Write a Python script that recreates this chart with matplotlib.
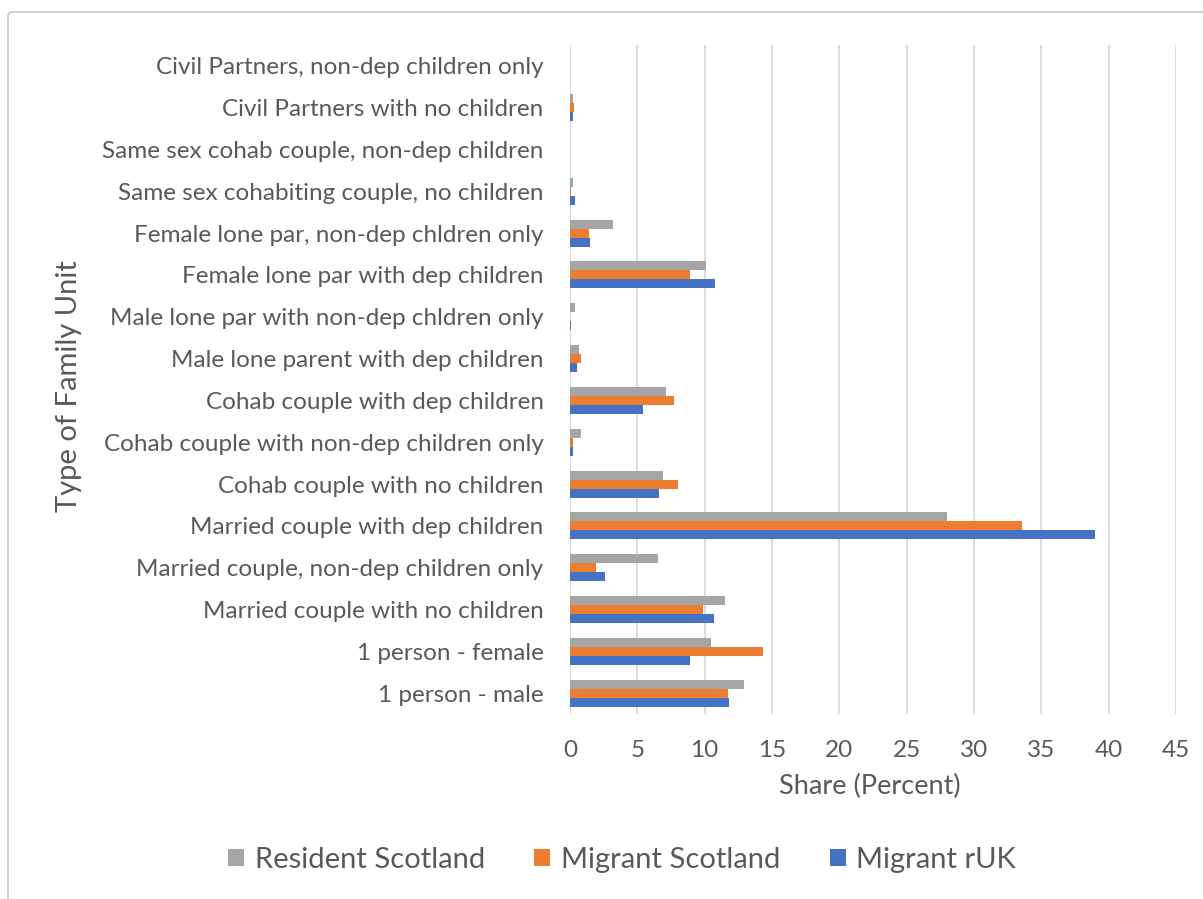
import matplotlib.pyplot as plt
import matplotlib.patches as mpatches
import numpy as np

plt.rcParams['font.family'] = ['Lato', 'DejaVu Sans']

# categories listed bottom to top, the way the spreadsheet stores them
categories = [
    "1 person - male",
    "1 person - female",
    "Married couple with no children",
    "Married couple, non-dep children only",
    "Married couple with dep children",
    "Cohab couple with no children",
    "Cohab couple with non-dep children only",
    "Cohab couple with dep children",
    "Male lone parent with dep children",
    "Male lone par with non-dep chldren only",
    "Female lone par with dep children",
    "Female lone par, non-dep chldren only",
    "Same sex cohabiting couple, no children",
    "Same sex cohab couple, non-dep children",
    "Civil Partners with no children",
    "Civil Partners, non-dep children only",
]

resident_scotland = [12.9, 10.5, 11.5, 6.5, 28.0, 6.9, 0.8, 7.1, 0.7, 0.4, 10.1, 3.2, 0.2, 0.0, 0.2, 0.0]
migrant_scotland = [11.7, 14.3, 9.9, 1.9, 33.6, 8.0, 0.2, 7.7, 0.8, 0.0, 8.9, 1.4, 0.1, 0.0, 0.3, 0.0]
migrant_ruk = [11.8, 8.9, 10.7, 2.6, 39.0, 6.6, 0.2, 5.4, 0.5, 0.1, 10.8, 1.5, 0.4, 0.0, 0.2, 0.0]

x_ticks = [0, 5, 10, 15, 20, 25, 30, 35, 40, 45]

text_col = '#595959'
grid_col = '#d9d9d9'
series = [
    ("Resident Scotland", resident_scotland, '#A5A5A5'),
    ("Migrant Scotland", migrant_scotland, '#ED7D31'),
    ("Migrant rUK", migrant_ruk, '#4472C4'),
]

W, H = 1203, 899
fig = plt.figure(figsize=(W / 100, H / 100), dpi=100)

# outer chart border
fig.patches.append(mpatches.FancyBboxPatch(
    (8 / W, -0.05), 1.2, 1.05 - 12 / H,
    boxstyle='round,pad=0,rounding_size=0.004',
    transform=fig.transFigure, facecolor='none', edgecolor='#c8c8c8', lw=1.2))

ax = fig.add_axes([570 / W, 1 - 714 / H, 606 / W, 669 / H])
ax.patch.set_alpha(0)

y = np.arange(len(categories))
h = 0.215
for i, (name, vals, col) in enumerate(series):
    ax.barh(y + h * (1 - i), vals, height=h, color=col, label=name, zorder=3)

ax.set_xlim(0, 45)
ax.set_ylim(-0.5, len(categories) - 0.5)
ax.set_xticks(x_ticks)
ax.set_yticks(y)
ax.set_yticklabels(categories)
ax.grid(axis='x', color=grid_col, lw=1.3, zorder=0)
for s in ax.spines.values():
    s.set_visible(False)
ax.tick_params(axis='y', length=0, pad=19, labelsize=17.5, labelcolor=text_col)
ax.tick_params(axis='x', length=0, pad=19, labelsize=17.5, labelcolor=text_col)

ax.set_xlabel("Share (Percent)", fontsize=19.5, color=text_col)
ax.xaxis.set_label_coords(0.495, -0.089)
ax.set_ylabel("Type of Family Unit", fontsize=21, color=text_col)
ax.yaxis.set_label_coords(-0.805, 0.49)

fig.legend(loc='center', bbox_to_anchor=(622 / W, 1 - 860 / H), ncol=3,
           frameon=False, fontsize=21, labelcolor=text_col,
           handlelength=0.55, handleheight=0.55, handletextpad=0.35,
           columnspacing=1.7)

fig.savefig('out.png', dpi=100)
